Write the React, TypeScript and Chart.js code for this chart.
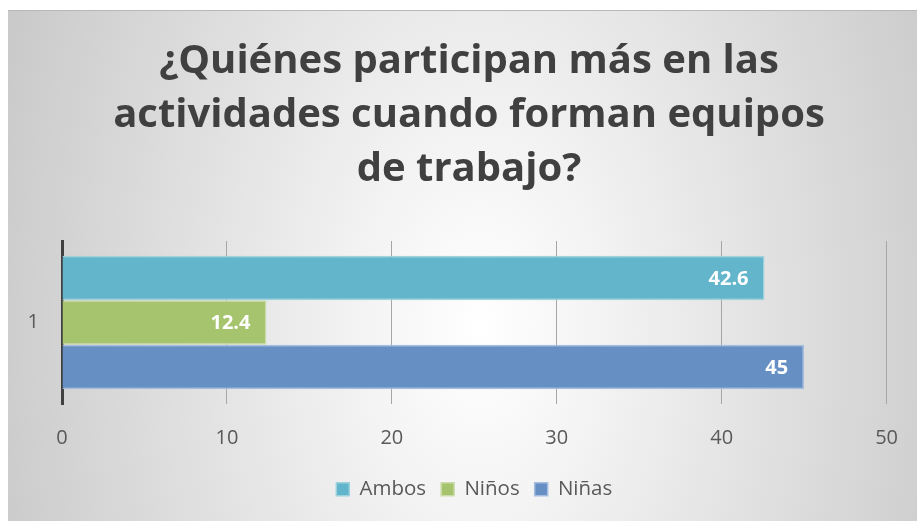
import React, { useEffect, useRef } from "react";
import { Chart, registerables } from "chart.js";

Chart.register(...registerables);

const titleLines = ["¿Quiénes participan más en las", "actividades cuando forman equipos", "de trabajo?"];
const categories = ["1"];
const seriesNames = ["Ambos", "Niños", "Niñas"];
const ambosValues = [42.6];
const ninosValues = [12.4];
const ninasValues = [45];
const xTicks = [0, 10, 20, 30, 40, 50];

const FONT = "'Open Sans', Lato, sans-serif";

const dataLabelPlugin = {
  id: "dataLabels",
  afterDatasetsDraw(chart: any) {
    const ctx = chart.ctx;
    ctx.save();
    ctx.font = `bold 20px ${FONT}`;
    ctx.fillStyle = "#ffffff";
    ctx.textAlign = "right";
    ctx.textBaseline = "middle";
    chart.data.datasets.forEach((ds: any, di: number) => {
      const meta = chart.getDatasetMeta(di);
      meta.data.forEach((bar: any, i: number) => {
        ctx.fillText(String(ds.data[i]), bar.x - 16, bar.y + 1);
      });
    });
    ctx.restore();
  },
};

export default function App() {
  const ref = useRef<HTMLCanvasElement>(null);
  useEffect(() => {
    if (!ref.current) return;
    const chart = new Chart(ref.current, {
      type: "bar",
      data: {
        labels: categories,
        datasets: [
          { label: seriesNames[0], data: ambosValues, backgroundColor: "#62b5ca", borderColor: "#9fd2df", borderWidth: 1.5 },
          { label: seriesNames[1], data: ninosValues, backgroundColor: "#a6c46e", borderColor: "#cbdcaa", borderWidth: 1.5 },
          { label: seriesNames[2], data: ninasValues, backgroundColor: "#6690c4", borderColor: "#a5bde0", borderWidth: 1.5 },
        ],
      },
      options: {
        indexAxis: "y",
        animation: false,
        responsive: true,
        maintainAspectRatio: false,
        layout: { padding: { left: 19, right: 6, top: 0, bottom: 11.5 } },
        datasets: { bar: { categoryPercentage: 0.82, barPercentage: 1 } },
        scales: {
          x: {
            min: 0,
            max: 50,
            afterBuildTicks: (axis: any) => {
              axis.ticks = xTicks.map((v) => ({ value: v }));
            },
            afterFit: (axis: any) => {
              axis.height = 60;
            },
            grid: { color: "#a6a6a6", lineWidth: 1, drawTicks: false },
            border: { display: false },
            ticks: { color: "#595959", font: { family: FONT, size: 20, lineHeight: 30 / 20 }, padding: 19 },
          },
          y: {
            afterFit: (axis: any) => {
              axis.width = 35;
            },
            grid: { display: false, drawTicks: false },
            border: { display: true, color: "#404040", width: 3 },
            ticks: { color: "#595959", font: { family: FONT, size: 20 }, padding: 23 },
          },
        },
        plugins: {
          title: {
            display: true,
            text: titleLines,
            color: "#404040",
            font: { family: FONT, size: 40, weight: "bold", lineHeight: 54 / 40 },
            padding: { top: 24, bottom: 44 },
          },
          legend: {
            position: "bottom",
            fullSize: false,
            labels: {
              boxWidth: 13,
              boxHeight: 13,
              padding: 15,
              color: "#595959",
              font: { family: FONT, size: 20.5 },
            },
          },
          tooltip: { enabled: false },
        },
      },
      plugins: [dataLabelPlugin],
    } as any);
    return () => chart.destroy();
  }, []);

  return (
    <div
      style={{
        position: "absolute",
        left: 8,
        top: 10,
        width: 909,
        height: 511,
        borderTop: "1px solid #b8b8b8",
        boxSizing: "border-box",
        background:
          "radial-gradient(ellipse 570px 900px at 52% 62%, #ffffff 0%, #f4f4f4 20%, #c3c3c3 100%)",
      }}
    >
      <canvas ref={ref} />
    </div>
  );
}
